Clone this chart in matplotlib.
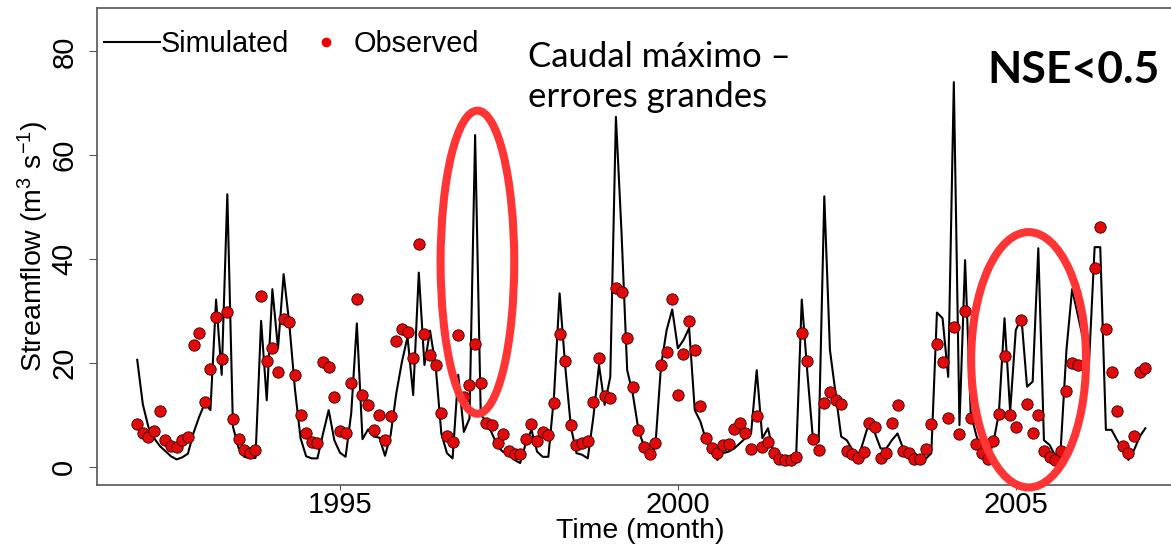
import numpy as np
import pandas as pd
import matplotlib
matplotlib.use("Agg")
import matplotlib.pyplot as plt
from matplotlib.lines import Line2D
from matplotlib.patches import Ellipse

# monthly series, Jan 1992 - Dec 2006
months = pd.date_range("1992-01-01", "2006-12-01", freq="MS")

simulated = [
    20.6, 12.0, 7.6, 5.5, 4.0, 3.0, 2.0, 1.4, 1.8, 2.5, 6.5, 9.6,
    12.2, 10.9, 32.2, 17.7, 52.5, 7.7, 3.6, 1.9, 1.7, 1.7, 28.1, 12.8,
    34.2, 22.8, 37.1, 27.6, 15.0, 5.5, 2.0, 1.6, 1.6, 6.4, 10.9, 5.1,
    2.7, 1.9, 10.3, 27.6, 5.3, 7.2, 5.8, 5.6, 2.1, 6.1, 14.1, 20.2,
    25.0, 13.8, 37.4, 19.6, 26.2, 19.3, 6.4, 2.6, 1.6, 17.7, 6.7, 9.3,
    63.9, 10.0, 8.7, 6.4, 3.9, 2.8, 2.6, 1.3, 0.7, 4.5, 7.1, 2.9,
    1.9, 1.9, 13.5, 33.4, 19.3, 7.7, 2.6, 2.3, 1.6, 9.6, 19.6, 11.9,
    17.3, 67.4, 45.0, 18.6, 14.0, 7.1, 3.9, 1.9, 3.9, 19.3, 26.3, 30.3,
    22.8, 24.4, 26.7, 10.9, 8.7, 5.1, 3.2, 1.3, 2.6, 2.9, 3.5, 4.5,
    5.5, 6.4, 18.6, 5.5, 7.4, 2.6, 1.3, 1.3, 1.3, 1.9, 32.2, 18.0,
    5.1, 4.8, 52.1, 22.5, 14.1, 5.8, 5.1, 3.2, 1.6, 5.1, 8.7, 6.4,
    3.5, 3.5, 5.1, 6.4, 3.5, 3.2, 2.6, 1.9, 1.5, 2.6, 29.7, 28.6,
    17.3, 74.1, 8.0, 39.8, 10.3, 6.0, 3.0, 1.5, 4.5, 10.3, 28.6, 10.6,
    26.3, 28.8, 15.4, 16.4, 42.1, 5.1, 4.2, 2.1, 3.9, 22.5, 34.2, 29.3,
    24.4, 19.8, 42.3, 42.3, 7.1, 7.1, 5.1, 3.2, 1.3, 3.2, 5.8, 7.4,
]

observed = [
    8.2, 6.4, 5.7, 6.9, 10.7, 5.1, 4.0, 3.8, 5.1, 5.7, 23.4, 25.8,
    12.4, 18.8, 28.9, 20.7, 29.9, 9.2, 5.3, 3.2, 2.6, 3.2, 32.9, 20.4,
    22.8, 18.2, 28.5, 27.9, 17.7, 10.0, 6.4, 4.7, 4.6, 20.1, 19.3, 13.4,
    6.9, 6.4, 16.2, 32.3, 13.9, 11.8, 7.1, 10.0, 5.2, 9.8, 24.2, 26.5,
    26.0, 20.9, 42.9, 25.5, 21.5, 19.5, 10.3, 6.0, 4.7, 25.4, 13.5, 15.8,
    23.6, 16.1, 8.4, 8.0, 4.6, 6.3, 3.0, 2.4, 2.4, 5.4, 8.2, 4.9,
    6.7, 6.2, 12.2, 25.6, 20.3, 8.0, 4.1, 4.5, 4.9, 12.4, 20.9, 13.7,
    13.2, 34.5, 33.6, 24.7, 15.3, 7.1, 3.8, 2.4, 4.6, 19.5, 22.1, 32.4,
    13.8, 21.7, 28.1, 22.5, 11.7, 5.5, 3.6, 2.6, 4.2, 4.4, 7.3, 8.5,
    6.4, 3.4, 9.7, 3.7, 4.8, 2.6, 1.4, 1.3, 1.3, 1.9, 25.8, 20.3,
    5.4, 3.3, 12.3, 14.3, 12.8, 12.1, 3.1, 2.4, 1.6, 2.8, 8.4, 7.7,
    1.7, 2.7, 8.4, 11.9, 3.1, 2.7, 1.5, 1.4, 3.4, 8.2, 23.7, 20.2,
    9.4, 26.9, 6.3, 30.0, 9.3, 4.4, 2.7, 1.4, 5.0, 10.2, 21.3, 9.9,
    7.7, 28.3, 12.0, 6.4, 9.9, 3.0, 1.9, 1.3, 3.0, 14.5, 19.9, 19.5,
    np.nan, np.nan, 38.2, 46.2, 26.5, 18.2, 10.8, 3.9, 2.6, 6.0, 18.2, 19.0,
]

year_ticks = [1995, 2000, 2005]
flow_ticks = [0, 20, 40, 60, 80]

W, H = 1171, 549
R_FONT = ["Liberation Sans", "DejaVu Sans"]
NOTE_FONT = ["Lato", "DejaVu Sans"]
plt.rcParams["font.family"] = R_FONT
plt.rcParams["mathtext.fontset"] = "custom"
plt.rcParams["mathtext.rm"] = "Liberation Sans"
plt.rcParams["mathtext.it"] = "Liberation Sans:italic"


def fx(px):
    return px / W


def fy(py):
    return 1 - py / H


t = months.year + (months.month - 1) / 12.0

fig = plt.figure(figsize=(W / 100, H / 100), dpi=100)
ax = fig.add_axes([fx(97), fy(485), fx(1180) - fx(97), fy(8) - fy(485)])

ax.plot(t, simulated, color="black", lw=1.5, zorder=2)
ax.plot(t, observed, "o", ms=8.2, mfc="#e00b0b", mec="#3a0000", mew=0.6,
        zorder=3, linestyle="none")

ax.set_xlim(1991.405, 2007.43)
ax.set_ylim(-3.53, 88.38)
ax.set_xticks(year_ticks)
ax.set_yticks(flow_ticks)
ax.tick_params(axis="x", labelsize=21, length=3.5, pad=1, color="#555555")
ax.tick_params(axis="y", labelsize=21, length=5.5, pad=8, labelrotation=90,
               color="#555555")
for lab in ax.get_yticklabels():
    lab.set_va("center")
for s in ax.spines.values():
    s.set_color("#555555")
    s.set_linewidth(1.2)

fig.text(fx(33), fy(246), r"Streamflow (m$^3$ s$^{-1}$)", rotation=90,
         ha="center", va="center", fontsize=20.5)
fig.text(fx(640), fy(531), "Time (month)", ha="center", va="center",
         fontsize=20.5)

handles = [
    Line2D([], [], color="black", lw=1.5),
    Line2D([], [], marker="o", color="#ee0000", ms=6, linestyle="none"),
]
fig.legend(handles, ["Simulated", "Observed"], loc="center left",
           bbox_to_anchor=(fx(104), fy(44)), ncol=2, frameon=False,
           fontsize=20.8, handlelength=1.95, handletextpad=0.0,
           columnspacing=0.3, borderpad=0, borderaxespad=0)

# highlighted peaks
for cx, cy, w, h in [(1997.034, 39.4, 1.09, 58.4), (2005.19, 20.6, 1.7, 49.2)]:
    ax.add_patch(Ellipse((cx, cy), w, h, fill=False, edgecolor="#ff3535",
                         lw=5.8, clip_on=False, zorder=5))

fig.text(fx(528), fy(41), "Caudal máximo –\nerrores grandes", ha="left",
         va="top", fontsize=25, linespacing=1.3, family=NOTE_FONT)
fig.text(fx(987), fy(50), "NSE<0.5", ha="left", va="top", fontsize=32,
         fontweight="bold", family=NOTE_FONT)

fig.savefig("out.png", dpi=100)
